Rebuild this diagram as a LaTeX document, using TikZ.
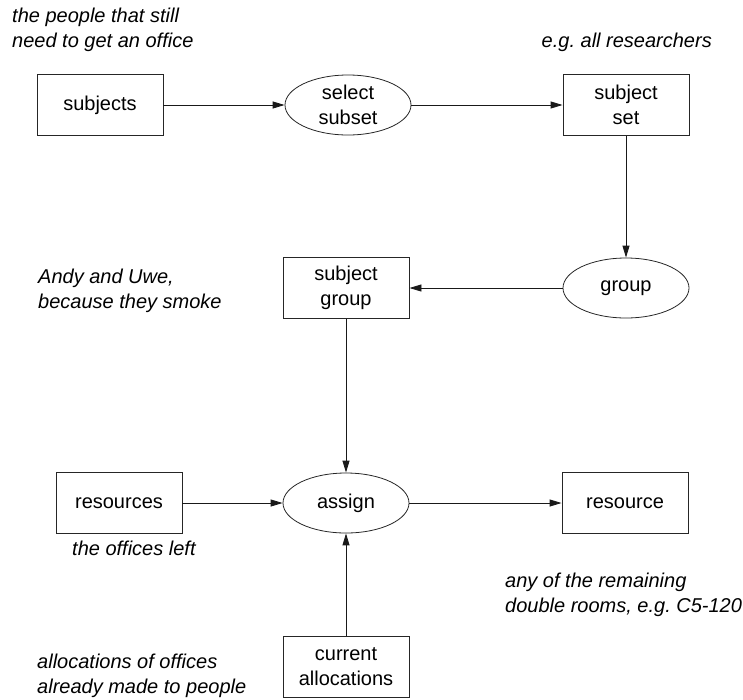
\documentclass[tikz,border=0pt]{standalone}
\usepackage{fontspec}
\setmainfont{Liberation Sans}
\usetikzlibrary{shapes.geometric,arrows.meta}
\frenchspacing
\begin{document}
\begin{tikzpicture}[x=1pt,y=-1pt,
  every node/.style={font=\fontsize{20}{25}\selectfont},
  box/.style={draw=black!85, line width=0.9pt, minimum width=126pt,
    minimum height=61pt, inner sep=0pt, align=center},
  proc/.style={ellipse, draw=black!85, line width=0.8pt, minimum width=126pt,
    minimum height=60pt, inner sep=0pt, align=center},
  note/.style={font=\fontsize{20}{25}\selectfont\itshape, align=left,
    inner sep=0pt, anchor=base west},
  flow/.style={line width=0.9pt, draw=black!90,
    -{Triangle[length=12pt,width=7pt]}}]
\useasboundingbox (0,0) rectangle (743,699);

% process chain
\node[box]  (subjects)  at (100,105) {subjects};
\node[proc] (select)    at (348,105) {select\\subset};
\node[box]  (subjset)   at (626,105) {subject\\set};
\node[proc] (group)     at (626,288) {group};
\node[box]  (subjgroup) at (346,288) {subject\\group};
\node[proc] (assign)    at (346,503) {assign};
\node[box]  (resources) at (119,503) {resources};
\node[box]  (resource)  at (625,503) {resource};
\node[box]  (current)   at (346,667) {current\\allocations};

\draw[flow] (subjects) -- (select);
\draw[flow] (select) -- (subjset);
\draw[flow] (subjset) -- (group);
\draw[flow] (group) -- (subjgroup);
\draw[flow] (subjgroup) -- (assign);
\draw[flow] (resources) -- (assign);
\draw[flow] (current) -- (assign);
\draw[flow] (assign) -- (resource);

% annotations (multi-line notes are placed by the baseline of their last line)
\node[note] (n1) at (12,47) {the people that still\\need to get an office};
\node[note, anchor=base east] (n2) at (712,47) {e.g. all researchers};
\node[note] (n3) at (38,308) {Andy and Uwe,\\because they smoke};
\node[note] (n4) at (72,555) {the offices left};
\node[note] (n5) at (505,612) {any of the remaining\\double rooms, e.g. C5-120};
\node[note] (n6) at (37,693) {allocations of offices\\already made to people};
\end{tikzpicture}
\end{document}
